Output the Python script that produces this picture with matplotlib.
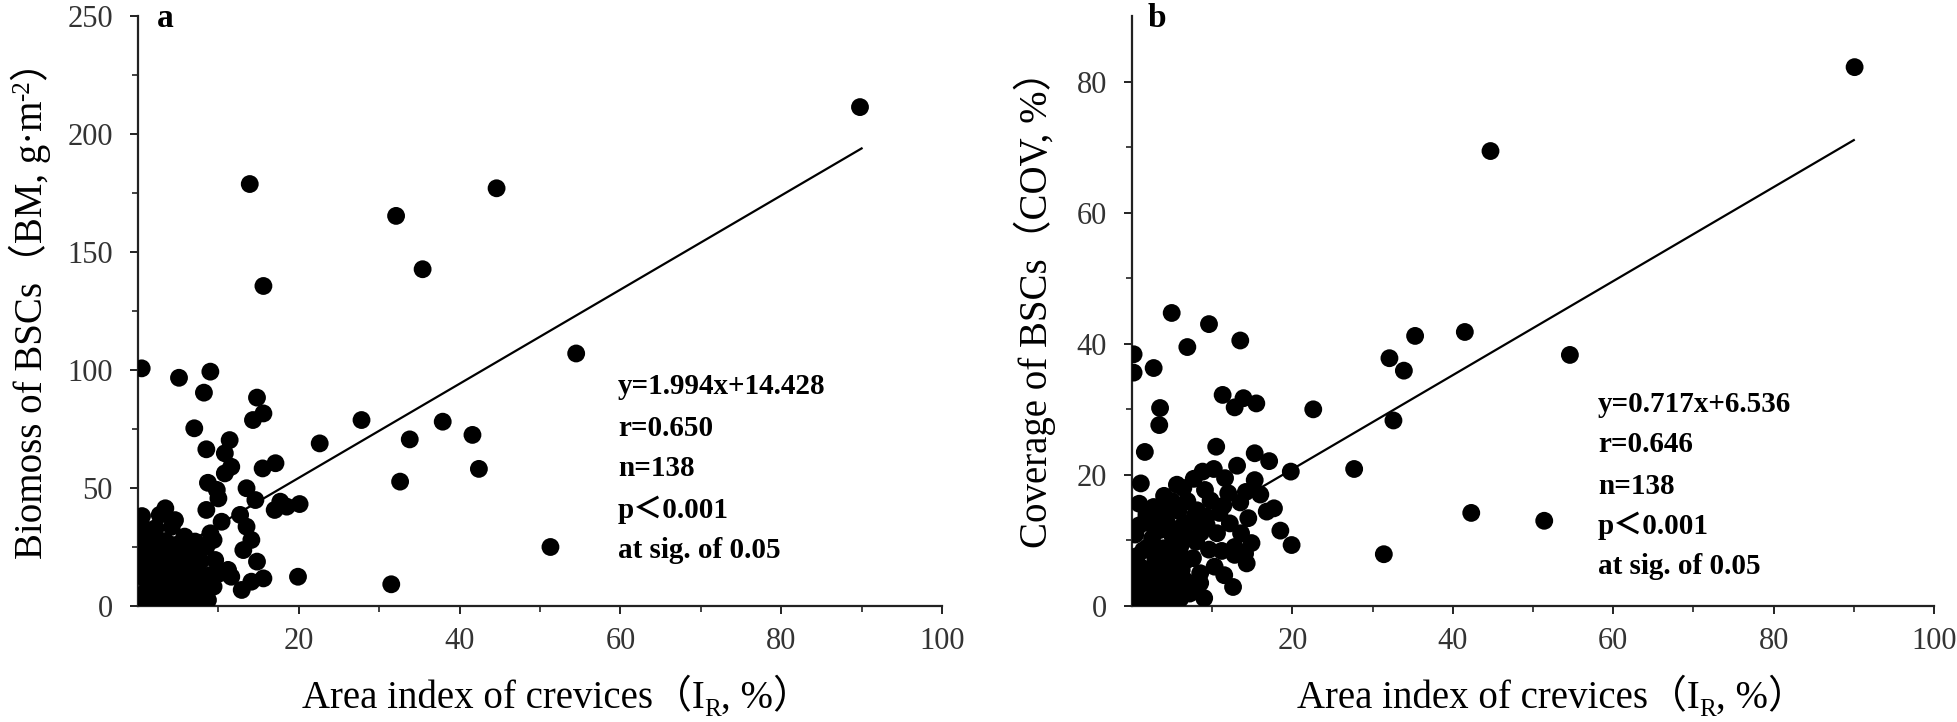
import matplotlib
matplotlib.use("Agg")
import matplotlib.pyplot as plt
from matplotlib.transforms import IdentityTransform
import numpy as np

FAM = ['Liberation Serif', 'Noto Sans CJK SC', 'DejaVu Serif']
plt.rcParams['font.family'] = FAM

# ---------------- data: panel a (BM vs IR) ----------------
a_x = [89.8, 13.9, 44.6, 32.1, 35.4, 15.6, 54.5, 0.46, 5.1, 9.0,
       8.2, 14.8, 15.6, 14.3, 27.8, 37.9, 7.0, 41.6, 33.8, 22.6,
       11.4, 8.5, 10.8, 42.4, 32.6, 51.3, 19.9, 31.5, 11.6, 10.8,
       8.7, 9.8, 10.0, 8.5, 13.5, 14.6, 15.5, 17.1, 17.0, 18.5,
       20.1, 17.7, 0.5, 3.4, 4.6, 1.9, 10.4, 9.0, 12.7, 13.5,
       14.1, 13.1, 14.8, 15.6, 14.1, 12.9, 11.6, 10.2, 9.6, 8.5,
       5.8, 7.1, 9.4, 2.7, 4.2, 9.4, 8.3, 8.7, 9.0, 11.2,
       0.3, 0.8, 1.2, 0.5, 1.0, 0.7, 1.6, 2.1, 1.8, 2.4,
       2.0, 2.6, 1.5, 3.0, 3.3, 2.9, 3.5, 3.1, 3.7, 3.2,
       4.0, 4.4, 4.1, 4.6, 4.2, 4.8, 4.5, 5.2, 5.5, 5.0,
       5.7, 5.3, 5.9, 5.4, 6.2, 6.5, 6.1, 6.7, 6.3, 6.8,
       6.4, 7.2, 7.5, 7.0, 7.6, 7.3, 7.8, 7.1, 8.0, 8.2,
       0.4, 1.3, 2.3, 3.4, 0.9, 2.7, 3.9, 5.1, 6.0, 1.9,
       4.9, 6.9, 0.6, 2.2, 1.1, 3.6, 5.6, 7.4]
a_y = [211.4, 178.8, 177.0, 165.3, 142.7, 135.6, 107.0, 100.7, 96.7, 99.3,
       90.4, 88.3, 81.6, 78.8, 78.8, 78.1, 75.3, 72.5, 70.6, 68.9,
       70.3, 66.4, 64.7, 58.1, 52.7, 25.0, 12.4, 9.2, 59.0, 56.2,
       52.2, 49.2, 45.6, 40.7, 49.9, 44.9, 58.3, 60.5, 40.7, 42.1,
       43.2, 44.2, 38.1, 41.4, 36.4, 30.8, 35.7, 30.8, 38.6, 33.6,
       28.0, 23.7, 18.8, 11.7, 10.3, 6.8, 12.4, 13.9, 19.5, 25.1,
       29.4, 27.3, 28.0, 38.6, 33.6, 8.2, 5.4, 2.5, 13.1, 15.3,
       2.1, 5.4, 9.8, 14.2, 18.5, 22.3, 1.2, 4.6, 7.9, 12.1,
       16.4, 20.2, 25.1, 0.8, 3.9, 8.6, 11.0, 14.8, 18.1, 23.5,
       2.5, 6.2, 9.4, 13.3, 16.9, 21.0, 25.8, 0.6, 4.1, 7.5,
       10.6, 15.0, 18.8, 22.6, 2.0, 5.8, 9.0, 12.5, 16.2, 20.4,
       24.0, 1.1, 4.8, 8.3, 11.7, 15.5, 19.0, 22.9, 3.0, 7.0,
       27.0, 29.5, 26.8, 27.5, 11.5, 2.2, 5.5, 12.3, 26.5, 22.0,
       1.5, 17.6, 33.4, 33.0, 0.5, 20.5, 27.8, 26.0]

# ---------------- data: panel b (COV vs IR) ----------------
b_x = [90.1, 44.7, 4.95, 9.6, 6.9, 13.5, 0.2, 0.2, 2.7, 3.5,
       3.4, 11.3, 12.8, 13.9, 15.5, 22.6, 35.3, 32.1, 33.9, 41.5,
       32.6, 27.7, 42.3, 31.4, 54.6, 51.4, 1.6, 10.5, 1.1, 19.8,
       15.3, 17.1, 13.1, 11.6, 8.8, 9.1, 5.6, 6.4, 4.0, 15.3,
       14.2, 11.4, 16.8, 17.7, 18.5, 19.9, 14.5, 14.9, 14.1, 12.8,
       14.3, 12.6, 8.1, 9.3, 10.6, 6.2, 5.0, 1.8, 2.2, 3.5,
       1.4, 10.3, 8.5, 6.0, 7.6, 4.7, 3.1, 1.0, 6.4, 5.1,
       8.5, 7.2, 6.2, 12.8, 9.3,
       0.3, 0.8, 0.5, 1.2, 1.6, 1.1, 2.0, 2.4, 2.1, 2.8,
       3.2, 2.9, 3.6, 4.0, 3.7, 4.4, 4.8, 4.5, 5.2, 5.6,
       5.3, 6.0, 0.6, 1.9, 2.5, 0.4, 3.9, 4.3, 0.9, 2.7,
       5.8, 7.0, 8.0, 9.6, 11.2, 7.3, 10.9, 12.2, 9.8, 6.9,
       4.6, 7.9, 6.8, 7.7, 10.2, 12.0, 16.0, 13.5, 1.5, 3.3,
       0.2, 4.1, 2.6, 5.4, 6.6, 0.9, 7.8, 9.0, 3.5, 5.0,
       8.6, 11.5, 13.6]
b_y = [82.2, 69.4, 44.7, 43.0, 39.5, 40.5, 38.4, 35.6, 36.3, 30.2,
       27.6, 32.2, 30.3, 31.7, 30.9, 30.0, 41.2, 37.8, 35.9, 41.8,
       28.3, 20.9, 14.2, 7.9, 38.3, 13.0, 23.5, 24.3, 18.7, 20.5,
       23.3, 22.1, 21.4, 19.5, 20.5, 17.7, 18.5, 18.0, 16.8, 19.2,
       17.4, 15.3, 14.4, 14.9, 11.5, 9.3, 13.4, 9.6, 8.0, 7.8,
       6.5, 2.9, 14.6, 13.6, 11.1, 12.1, 10.8, 13.9, 12.6, 11.6,
       8.5, 6.0, 3.5, 9.0, 7.3, 7.0, 6.0, 6.0, 1.9, 9.6,
       5.0, 1.9, 5.5, 9.0, 12.4,
       0.5, 2.2, 4.1, 1.0, 3.3, 5.2, 0.7, 2.6, 4.8, 1.5,
       3.9, 6.8, 0.4, 2.3, 5.1, 1.2, 3.5, 5.9, 0.6, 2.8,
       4.6, 1.1, 7.6, 8.9, 10.3, 10.9, 8.8, 12.9, 15.6, 15.1,
       14.5, 10.4, 9.8, 8.6, 8.4, 12.8, 14.2, 12.6, 16.1, 16.0,
       14.9, 14.0, 7.0, 19.4, 20.9, 17.2, 17.0, 15.8, 0.3, 0.9,
       3.0, 4.4, 8.2, 7.9, 3.9, 12.3, 2.8, 1.2, 14.0, 16.0,
       11.2, 4.7, 11.1]

fit_a = (1.994, 14.428)
fit_b = (0.717, 6.536)
fit_range = (0, 90)

x_ticks = [20, 40, 60, 80, 100]
x_minor = [10, 30, 50, 70, 90]
a_yticks = [0, 50, 100, 150, 200, 250]
a_yminor = [25, 75, 125, 175, 225]
b_yticks = [0, 20, 40, 60, 80]
b_yminor = [10, 30, 50, 70]

ann_a = ["y=1.994x+14.428", "r=0.650", "n=138", "p\uff1c0.001", "at sig. of 0.05"]
ann_b = ["y=0.717x+6.536", "r=0.646", "n=138", "p\uff1c0.001", "at sig. of 0.05"]

W, H = 1958, 722
fig = plt.figure(figsize=(W / 100, H / 100), dpi=100)

def px_axes(l, r, t, b):
    return [l / W, (H - b) / H, (r - l) / W, (b - t) / H]

ax_a = fig.add_axes(px_axes(138, 942, 16, 606))
ax_b = fig.add_axes(px_axes(1132, 1934, 16, 606))

def style(ax, ylim, yt, ym):
    ax.set_xlim(0, 100)
    ax.set_ylim(*ylim)
    for s in ['top', 'right']:
        ax.spines[s].set_visible(False)
    for s in ['left', 'bottom']:
        ax.spines[s].set_linewidth(1.6)
        ax.spines[s].set_color('#222222')
    ax.set_xticks(x_ticks)
    ax.set_xticks(x_minor, minor=True)
    ax.set_yticks(yt)
    ax.set_yticks(ym, minor=True)
    ax.tick_params(which='major', direction='out', length=6, width=1.4,
                   labelsize=22, labelcolor='#333333', color='#222222')
    ax.tick_params(which='minor', direction='out', length=4, width=1.2, color='#222222')
    ax.tick_params(axis='y', which='major', pad=12)
    ax.tick_params(axis='x', which='major', pad=9)
    for lab in ax.get_xticklabels() + ax.get_yticklabels():
        lab.set_family(FAM)

style(ax_a, (0, 250), a_yticks, a_yminor)
style(ax_b, (0, 90), b_yticks, b_yminor)

for ax, xs, ys, fit in [(ax_a, a_x, a_y, fit_a), (ax_b, b_x, b_y, fit_b)]:
    ax.scatter(xs, ys, s=165, color='black', edgecolors='none', zorder=3)
    fx = np.array(fit_range, dtype=float)
    ax.plot(fx, fit[0] * fx + fit[1], color='black', lw=1.6, zorder=2)

# panel letters
fig.text(157, H - 27, 'a', transform=IdentityTransform(), fontsize=24,
         fontweight='bold', family=FAM, ha='left', va='baseline')
fig.text(1148, H - 27, 'b', transform=IdentityTransform(), fontsize=24,
         fontweight='bold', family=FAM, ha='left', va='baseline')

# annotations
def annotate(lines, x_left, y_centers):
    for s, yc in zip(lines, y_centers):
        fig.text(x_left, H - yc, s, transform=IdentityTransform(), fontsize=21,
                 fontweight='bold', family=FAM, ha='left', va='center')

annotate(ann_a, 618, [387, 428, 469, 510, 551])
annotate(ann_b, 1598, [404, 445, 486, 526, 567])

fig.canvas.draw()
renderer = fig.canvas.get_renderer()

def pieces_h(pieces, cx, base_y):
    texts = []
    for s, size, dy in pieces:
        t = fig.text(0, 0, s, transform=IdentityTransform(), fontsize=size,
                     family=FAM, ha='left', va='baseline')
        texts.append(t)
    widths = [t.get_window_extent(renderer).width for t in texts]
    x = cx - sum(widths) / 2
    for t, w, (s, size, dy) in zip(texts, widths, pieces):
        t.set_position((x, H - base_y + dy))
        x += w

def pieces_v(pieces, base_x, cy):
    texts = []
    for s, size, dy in pieces:
        t = fig.text(0, 0, s, transform=IdentityTransform(), fontsize=size,
                     family=FAM, ha='left', va='baseline', rotation=90,
                     rotation_mode='anchor')
        texts.append(t)
    lens = [t.get_window_extent(renderer).height for t in texts]
    y = (H - cy) - sum(lens) / 2
    for t, L, (s, size, dy) in zip(texts, lens, pieces):
        t.set_position((base_x - dy, y))
        y += L

LBL = 28
pieces_h([("Area index of crevices\uff08I", LBL, 0), ("R", 18, -8), (", %\uff09", LBL, 0)], 557, 708)
pieces_h([("Area index of crevices\uff08I", LBL, 0), ("R", 18, -8), (", %\uff09", LBL, 0)], 1552, 708)
pieces_v([("Biomoss of BSCs\uff08BM, g\u00b7m", LBL, 0), ("-2", 18, 13), ("\uff09", LBL, 0)], 42, 300)
pieces_v([("Coverage of BSCs\uff08COV, %\uff09", LBL, 0)], 1047, 300)

fig.savefig('out.png', dpi=100)
